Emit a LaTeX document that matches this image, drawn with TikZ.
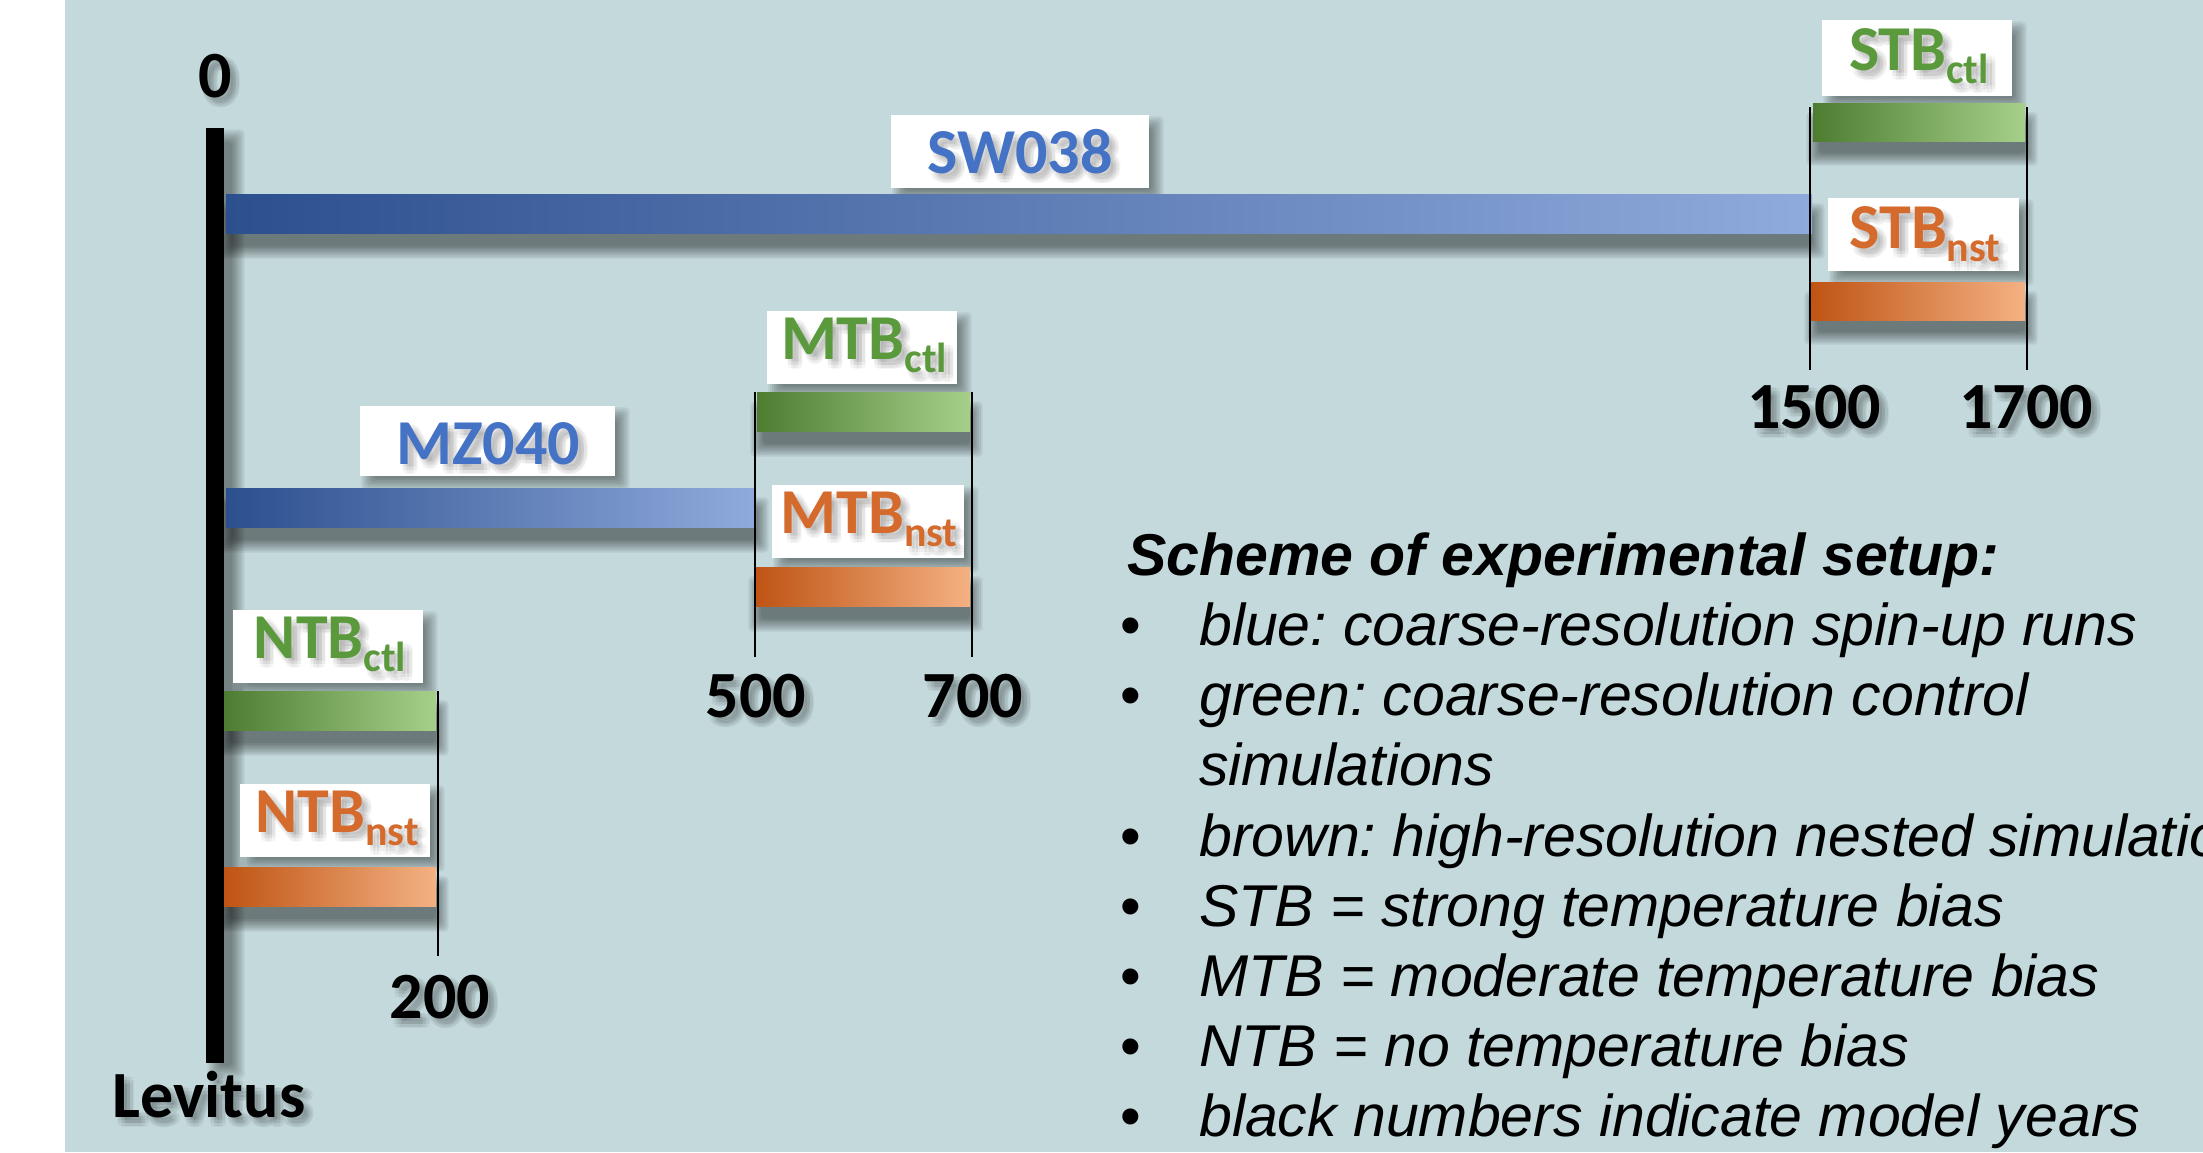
\documentclass[tikz,border=0pt]{standalone}
\usepackage{fontspec}
\setmainfont{Carlito}
\newfontfamily\arialf{Liberation Sans}
\usetikzlibrary{calc}
\frenchspacing
\definecolor{bg}{HTML}{C4D9DC}
\definecolor{blueL}{HTML}{2C4F8E}
\definecolor{blueM}{HTML}{4472C4}
\definecolor{blueR}{HTML}{8FAADC}
\definecolor{greenL}{HTML}{4E7D32}
\definecolor{greenM}{HTML}{70AD47}
\definecolor{greenR}{HTML}{A6D08A}
\definecolor{orL}{HTML}{BF5414}
\definecolor{orM}{HTML}{ED7D31}
\definecolor{orR}{HTML}{F4B183}
\definecolor{txtblue}{HTML}{4472C4}
\definecolor{txtgreen}{HTML}{5A9A3C}
\definecolor{txtorange}{HTML}{D46A2C}

% soft shadow: [opacity per layer] x1 y1 x2 y2 of the shadow core
\newcommand{\softshadow}[5][0.06]{%
  \foreach \k in {0,...,7}{%
    \fill[black,opacity=#1,rounded corners=4pt]
      ({#2+6-1.8*\k},{#3+6-1.8*\k}) rectangle ({#4-6+1.8*\k},{#5-6+1.8*\k});
  }}
% blurred text shadow: style, x, y, text, opacity
\newcommand{\textshadow}[5]{%
  \foreach \dx/\dy in {3/3,9/3,3/9,9/9,6/6,6/2,2/6,10/6,6/10}{%
    \node[#1,text=black,text opacity=#5] at ({#2+\dx},{#3+\dy}) {#4};
  }}

\tikzset{
  bar/.style={inner sep=0pt, outer sep=0pt, anchor=north west, minimum height=39pt},
  bluebar/.style={bar, left color=blueL, middle color=blueM, right color=blueR},
  greenbar/.style={bar, left color=greenL, middle color=greenM, right color=greenR},
  orangebar/.style={bar, left color=orL, middle color=orM, right color=orR},
  lbox/.style={fill=white, inner sep=0pt, outer sep=0pt, anchor=north west},
  lbtext/.style={font=\fontsize{64}{64}\selectfont\bfseries, inner sep=0pt, anchor=base},
  numfont/.style={font=\fontsize{66}{66}\selectfont\bfseries, inner sep=0pt, anchor=base, text=black},
  tick/.style={black, line width=2.2pt},
  legend/.style={font=\arialf\fontsize{59}{59}\selectfont\itshape, inner sep=0pt, anchor=base west, text=black},
  legendhead/.style={font=\arialf\fontsize{59}{59}\selectfont\bfseries\itshape, inner sep=0pt, anchor=base west, text=black},
  bullet/.style={font=\arialf\fontsize{59}{59}\selectfont, inner sep=0pt, anchor=base west, text=black},
}

\newcommand{\labbox}[5]{% name x1 y1 x2 y2
  \node[lbox, minimum width={#4-#2}, minimum height={#5-#3}] (#1) at (#2,#3) {};}
\newcommand{\labtext}[6]{% name x y color main sub
  \textshadow{lbtext}{#2}{#3}{#5\raisebox{-13pt}{\fontsize{42}{42}\selectfont #6}}{0.035}
  \node[lbtext, text=#4] (#1) at (#2,#3) {#5\raisebox{-13pt}{\fontsize{42}{42}\selectfont #6}};}
\newcommand{\numlab}[4]{% name x y text
  \textshadow{numfont}{#2}{#3}{#4}{0.045}
  \node[numfont] (#1) at (#2,#3) {#4};}

\begin{document}
\begin{tikzpicture}[x=1pt,y=-1pt]
\useasboundingbox (0,0) rectangle (2203,1152);
\fill[white] (0,0) rectangle (2203,1152);
\fill[bg] (65,0) rectangle (2203,1152);

% ---- shadows ----
\softshadow{214}{136}{238}{1072}
% bars
\softshadow[0.065]{226}{210}{1818}{252}
\softshadow[0.065]{226}{504}{762}{546}
\softshadow[0.065]{224}{707}{442}{749}
\softshadow[0.065]{224}{883}{442}{925}
\softshadow[0.065]{757}{408}{976}{450}
\softshadow[0.065]{755}{583}{976}{625}
\softshadow[0.065]{1813}{119}{2031}{159}
\softshadow[0.065]{1811}{298}{2031}{338}
% label boxes
\softshadow{899}{123}{1157}{196}
\softshadow{368}{414}{623}{484}
\softshadow{1830}{28}{2020}{104}
\softshadow{1836}{206}{2027}{279}
\softshadow{775}{319}{965}{392}
\softshadow{780}{493}{972}{566}
\softshadow{241}{618}{431}{691}
\softshadow{248}{792}{438}{865}

% ---- axis ----
\node[fill=black, inner sep=0pt, outer sep=0pt, anchor=north west,
      minimum width=18pt, minimum height=935pt] (axis) at (206,128) {};

% ---- bars ----
\node[bluebar, minimum width=1586pt] (sw) at (226,194) {};
\node[bluebar, minimum width=530pt] (mz) at (226,488) {};
\node[greenbar, minimum width=212pt] (ntbcbar) at (224,691) {};
\node[orangebar, minimum width=212pt] (ntbnbar) at (224,867) {};
\node[greenbar, minimum width=213pt] (mtbcbar) at (757,392) {};
\node[orangebar, minimum width=215pt] (mtbnbar) at (755,567) {};
\node[greenbar, minimum width=212pt, minimum height=38pt] (stbcbar) at (1813,103) {};
\node[orangebar, minimum width=214pt, minimum height=38pt] (stbnbar) at (1811,282) {};

% ---- numbers ----
\numlab{n0}{215}{97}{0}
\numlab{n200}{440}{1018}{200}
\numlab{n500}{756}{717}{500}
\numlab{n700}{973}{717}{700}
\numlab{n1500}{1814}{428}{1500}
\numlab{n1700}{2026}{428}{1700}
\numlab{lev}{209}{1117}{Levitus}

% ---- tick lines ----
\coordinate (t200a) at (438,691);  \coordinate (t200b) at (438,956);
\coordinate (t500a) at (755,392);  \coordinate (t500b) at (755,657);
\coordinate (t700a) at (972,392);  \coordinate (t700b) at (972,657);
\coordinate (t1500a) at (1810,107); \coordinate (t1500b) at (1810,370);
\coordinate (t1700a) at (2027,107); \coordinate (t1700b) at (2027,370);
\draw[tick] (t200a) -- (t200b);
\draw[tick] (t500a) -- (t500b);
\draw[tick] (t700a) -- (t700b);
\draw[tick] (t1500a) -- (t1500b);
\draw[tick] (t1700a) -- (t1700b);

% ---- label boxes ----
\labbox{swbox}{891}{115}{1149}{188}
\labbox{mzbox}{360}{406}{615}{476}
\labbox{stbcbox}{1822}{20}{2012}{96}
\labbox{stbnbox}{1828}{198}{2019}{271}
\labbox{mtbcbox}{767}{311}{957}{384}
\labbox{mtbnbox}{772}{485}{964}{558}
\labbox{ntbcbox}{233}{610}{423}{683}
\labbox{ntbnbox}{240}{784}{430}{857}

\labtext{swtxt}{1020}{173}{txtblue}{SW038}{}
\labtext{mztxt}{488}{464}{txtblue}{MZ040}{}
\labtext{stbctxt}{1919}{70}{txtgreen}{STB}{ctl}
\labtext{stbntxt}{1925}{248}{txtorange}{STB}{nst}
\labtext{mtbctxt}{864}{359}{txtgreen}{MTB}{ctl}
\labtext{mtbntxt}{869}{533}{txtorange}{MTB}{nst}
\labtext{ntbctxt}{330}{658}{txtgreen}{NTB}{ctl}
\labtext{ntbntxt}{337}{832}{txtorange}{NTB}{nst}

% ---- legend ----
\begin{scope}
\clip (0,0) rectangle (2203,1152);
\node[legendhead] (lhead) at (1127,575) {Scheme of experimental setup:};
\foreach \y/\t/\b [count=\i] in {
  645/{blue: coarse-resolution spin-up runs}/1,
  715/{green: coarse-resolution control}/1,
  785/{simulations}/0,
  856/{brown: high-resolution nested simulations}/1,
  926/{STB = strong temperature bias}/1,
  996/{MTB = moderate temperature bias}/1,
  1066/{NTB = no temperature bias}/1,
  1136/{black numbers indicate model years}/1}{
  \node[legend] (leg\i) at (1199,\y) {\t};
  \ifnum\b=1 \node[bullet] (bul\i) at (1120,\y) {\textbullet}; \fi
}
\end{scope}
\end{tikzpicture}
\end{document}
